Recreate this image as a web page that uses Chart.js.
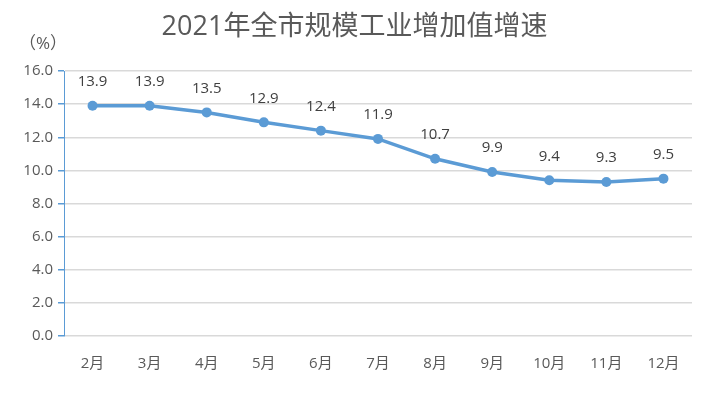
<!DOCTYPE html>
<html><head><meta charset="utf-8">
<script src="https://cdn.jsdelivr.net/npm/chart.js@4"></script>
<style>html,body{margin:0;padding:0;background:#fff}#wrap{width:709px;height:394px}</style>
</head><body><div id="wrap"><canvas id="c" width="709" height="394"></canvas></div>
<script>
const titleText = '2021年全市规模工业增加值增速';
const unitText = '（%）';
const categories = ['2月','3月','4月','5月','6月','7月','8月','9月','10月','11月','12月'];
const growth = [13.9,13.9,13.5,12.9,12.4,11.9,10.7,9.9,9.4,9.3,9.5];
const yMin = 0, yMax = 16, yStep = 2;

const FONT = '"Open Sans", "Noto Sans CJK SC", sans-serif';
const BLUE = '#5b9bd5';

const deco = {
  id:'deco',
  afterDatasetsDraw(chart){
    const ctx = chart.ctx;
    ctx.save();
    ctx.fillStyle = '#595959';
    ctx.font = '27px ' + FONT;
    ctx.textAlign = 'center'; ctx.textBaseline = 'middle';
    ctx.fillText(titleText, 354.5, 27);
    ctx.font = '17px ' + FONT;
    ctx.textAlign = 'left';
    ctx.fillText(unitText, 19, 44);
    const meta = chart.getDatasetMeta(0);
    ctx.font = '15px ' + FONT;
    ctx.fillStyle = '#404040';
    ctx.textAlign = 'center';
    meta.data.forEach((p,i)=>{
      ctx.fillText(growth[i].toFixed(1), p.x, p.y - 24);
    });
    ctx.restore();
  }
};

new Chart(document.getElementById('c'), {
  type:'line',
  data:{labels:categories, datasets:[{
    data:growth, borderColor:BLUE, backgroundColor:BLUE, borderWidth:3.5,
    pointRadius:5, pointHoverRadius:5, pointBackgroundColor:BLUE, pointBorderWidth:0, tension:0
  }]},
  options:{
    responsive:false, animation:false, devicePixelRatio:1,
    layout:{padding:{left:0,right:17,top:71,bottom:0}},
    plugins:{legend:{display:false}, tooltip:{enabled:false}, title:{display:false}},
    scales:{
      x:{
        offset:true,
        grid:{display:false},
        border:{display:false},
        ticks:{color:'#595959', font:{family:FONT,size:15}, padding:11, maxRotation:0},
        afterFit(s){ s.height = 58; }
      },
      y:{
        min:yMin, max:yMax,
        grid:{color:'#d9d9d9', lineWidth:1.5, tickColor:BLUE, tickLength:6, drawTicks:true},
        border:{display:true, color:BLUE, width:1},
        ticks:{stepSize:yStep, color:'#595959', font:{family:FONT,size:15}, padding:5,
          callback:v=>Number(v).toFixed(1)},
        afterFit(s){ s.width = 64; }
      }
    }
  },
  plugins:[deco]
});
</script></body></html>
